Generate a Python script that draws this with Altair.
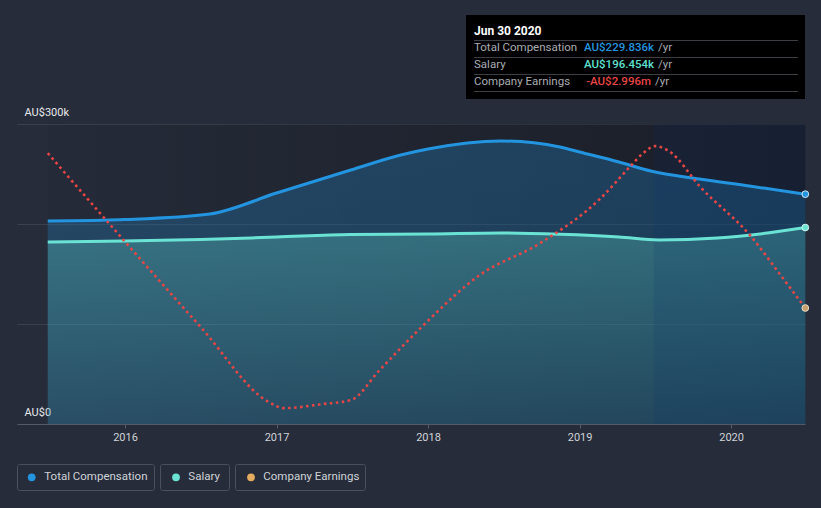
import altair as alt
import pandas as pd

# ---------------- data ----------------
comp_years = [2015.49, 2016.0, 2016.56, 2017.0, 2017.49, 2017.82, 2018.0,
              2018.48, 2018.87, 2019.0, 2019.26, 2019.47, 2019.79, 2020.12, 2020.49]
comp_k = [203, 204.5, 210, 231, 254, 269, 275, 283, 277, 272, 262, 253, 245, 238, 229.836]

sal_years = [2015.49, 2016.0, 2016.5, 2017.0, 2017.49, 2018.0, 2018.48, 2018.87, 2019.26,
             2019.52, 2019.91, 2020.24, 2020.49]
sal_k = [182, 183, 184.5, 187, 189.5, 190, 191, 189.7, 187, 184, 186, 191, 196.454]

earn_years = [2015.49, 2016.5, 2016.95, 2017.05, 2017.3, 2017.49,
              2017.68, 2017.95, 2018.34, 2018.74, 2019.14, 2019.33, 2019.42, 2019.5,
              2019.59, 2019.8, 2020.13, 2020.33, 2020.49]
earn_m = [1.65, -3.57, -5.82, -6.0, -5.88, -5.76,
          -4.86, -3.6, -2.01, -1.05, 0.3, 1.23, 1.65, 1.86,
          1.71, 0.62, -0.84, -2.03, -2.996]

tick_years = [2016, 2017, 2018, 2019, 2020]
series_names = ["Total Compensation", "Salary", "Company Earnings"]
series_colors = ["#2394df", "#6be3d4", "#e5ac5f"]
line_colors = ["#2394df", "#6be3d4", "#e84545"]
tip_date = "Jun 30 2020"
tip_values = ["AU$229.836k", "AU$196.454k", "-AU$2.996m"]
tip_colors = ["#2394df", "#5fe0d0", "#e84545"]

span = [2015.49, 2020.49]
band = [2019.49, 2020.49]

comp_df = pd.DataFrame({"year": comp_years, "v": comp_k})
sal_df = pd.DataFrame({"year": sal_years, "v": sal_k})
earn_df = pd.DataFrame({"year": earn_years, "e": earn_m})
span_df = pd.DataFrame({"year": [span[0]], "x2": [span[1]]})
band_df = pd.DataFrame({"year": [band[0]], "x2": [band[1]]})
one = pd.DataFrame({"a": [0]})

FONT = "Roboto"
xscale = alt.Scale(domain=[2015.287, 2020.488], nice=False, zero=False)
yscale = alt.Scale(domain=[0, 300], nice=False, zero=True)
escale = alt.Scale(domain=[-6.476, 2.524], nice=False, zero=False)

xaxis = alt.Axis(values=tick_years, format="d", title=None, grid=False,
                 domainColor="#555b66", tickColor="#555b66", tickSize=4,
                 labelColor="#d0d3d8", labelFont=FONT, labelFontSize=11, labelPadding=3)
X = alt.X("year:Q", scale=xscale, axis=xaxis)

yaxis = alt.Axis(values=[0, 100, 200, 300], title=None, domain=False, ticks=False,
                 grid=True, gridColor="#3a404d", gridWidth=1,
                 labelExpr="datum.value == 300 ? 'AU$300k' : (datum.value == 0 ? 'AU$0' : '')",
                 labelAlign="left", labelBaseline="bottom", labelPadding=-7, labelOffset=-7,
                 labelColor="#e6e8eb", labelFont=FONT, labelFontSize=11)

shade = alt.Chart(span_df).mark_rect(
    color=alt.Gradient(gradient="linear", x1=0, y1=0, x2=1, y2=0,
                       stops=[alt.GradientStop(color="rgba(0,0,0,0.04)", offset=0),
                              alt.GradientStop(color="rgba(0,0,0,0.32)", offset=1)])
).encode(x=X, x2="x2:Q", y=alt.value(0), y2=alt.value(300))

comp_area = alt.Chart(comp_df).mark_area(
    interpolate="monotone",
    color=alt.Gradient(gradient="linear", x1=0, y1=0, x2=0, y2=1,
                       stops=[alt.GradientStop(color="rgba(35,148,223,0.28)", offset=0),
                              alt.GradientStop(color="rgba(35,148,223,0.22)", offset=1)])
).encode(x=X, y=alt.Y("v:Q", scale=yscale, axis=yaxis))

sal_area = alt.Chart(sal_df).mark_area(
    interpolate="monotone",
    color=alt.Gradient(gradient="linear", x1=0, y1=0, x2=0, y2=1,
                       stops=[alt.GradientStop(color="rgba(100,220,205,0.30)", offset=0),
                              alt.GradientStop(color="rgba(100,220,205,0.08)", offset=1)])
).encode(x=X, y=alt.Y("v:Q", scale=yscale, axis=None))

band_rect = alt.Chart(band_df).mark_rect(color="#0a3370", opacity=0.14).encode(
    x=X, x2="x2:Q", y=alt.value(0), y2=alt.value(300))

comp_line = alt.Chart(comp_df).mark_line(interpolate="monotone", color=line_colors[0], strokeWidth=3).encode(
    x=X, y=alt.Y("v:Q", scale=yscale, axis=None))
sal_line = alt.Chart(sal_df).mark_line(interpolate="monotone", color=line_colors[1], strokeWidth=3).encode(
    x=X, y=alt.Y("v:Q", scale=yscale, axis=None))
earn_line = alt.Chart(earn_df).mark_line(interpolate="monotone", color=line_colors[2], strokeWidth=2.6,
                                         strokeDash=[2.6, 3.4]).encode(
    x=X, y=alt.Y("e:Q", scale=escale, axis=None))

comp_pt = alt.Chart(comp_df.tail(1)).mark_circle(size=45, color=line_colors[0], opacity=1,
                                                 stroke="#cfe6f7", strokeWidth=1).encode(
    x=X, y=alt.Y("v:Q", scale=yscale, axis=None))
sal_pt = alt.Chart(sal_df.tail(1)).mark_circle(size=45, color=line_colors[1], opacity=1,
                                               stroke="#d8f7f3", strokeWidth=1).encode(
    x=X, y=alt.Y("v:Q", scale=yscale, axis=None))
earn_pt = alt.Chart(earn_df.tail(1)).mark_circle(size=45, color="#c9a06a", opacity=1,
                                                 stroke="#e8dccb", strokeWidth=1).encode(
    x=X, y=alt.Y("e:Q", scale=escale, axis=None))

# ---------------- tooltip box (decoration, pixel placed) ----------------
OX, OY = 17, 124  # plot origin in page pixels
def px(v):
    return alt.value(v - OX)
def py(v):
    return alt.value(v - OY)

tip = [alt.Chart(one).mark_rect(color="#000000").encode(x=px(466), x2=px(805), y=py(15), y2=py(99))]
for yy in [40.5, 57.5, 74.5, 91.5]:
    tip.append(alt.Chart(one).mark_rule(color="#3c3f44", strokeWidth=1).encode(
        x=px(474), x2=px(798), y=py(yy)))
tip.append(alt.Chart(one).mark_text(text=tip_date, font=FONT, fontSize=12, fontWeight="bold",
                                    color="#ffffff", align="left", baseline="middle").encode(
    x=px(474), y=py(31)))
for i, (lab, val, col) in enumerate(zip(series_names, tip_values, tip_colors)):
    yy = 48 + 17 * i
    tip.append(alt.Chart(one).mark_text(text=lab, font=FONT, fontSize=11.5, color="#a9acb1",
                                        align="left", baseline="middle").encode(x=px(474), y=py(yy)))
    tip.append(alt.Chart(one).mark_text(text=val, font=FONT, fontSize=11.5, fontWeight=500, color=col,
                                        align="right", baseline="middle").encode(x=px(654 if i < 2 else 651), y=py(yy)))
    tip.append(alt.Chart(one).mark_text(text="/yr", font=FONT, fontSize=11.5, color="#a9acb1",
                                        align="left", baseline="middle").encode(x=px(658 if i < 2 else 655), y=py(yy)))

# ---------------- legend boxes ----------------
boxes = [(17, 155), (160, 230), (235, 366)]
dots_x = [31.7, 176, 251]
text_x = [44.3, 188.3, 263.3]
leg = []
for (bx0, bx1), dx, tx, name, col in zip(boxes, dots_x, text_x, series_names, series_colors):
    leg.append(alt.Chart(one).mark_rect(fill="#262c3a", fillOpacity=0, stroke="#4a505d", strokeWidth=1,
                                        cornerRadius=2).encode(
        x=px(bx0 + 0.5), x2=px(bx1 - 0.5), y=py(464.5), y2=py(490.5)))
    leg.append(alt.Chart(one).mark_circle(size=60, color=col, opacity=1).encode(x=px(dx), y=py(477.3)))
    leg.append(alt.Chart(one).mark_text(text=name, font=FONT, fontSize=11.5, color="#cfd2d7",
                                        align="left", baseline="middle").encode(x=px(tx), y=py(477.3)))

chart = alt.layer(
    shade, comp_area, sal_area, band_rect, comp_line, sal_line, earn_line,
    comp_pt, sal_pt, earn_pt, *tip, *leg
).resolve_scale(y="independent").properties(
    width=788, height=300,
    autosize=alt.AutoSizeParams(type="none"),
    padding={"left": 17, "top": 124, "right": 16, "bottom": 84},
    background="#262c3a",
).configure_view(stroke=None)

chart.save("out.html", embed_options={"renderer": "svg", "actions": False})
